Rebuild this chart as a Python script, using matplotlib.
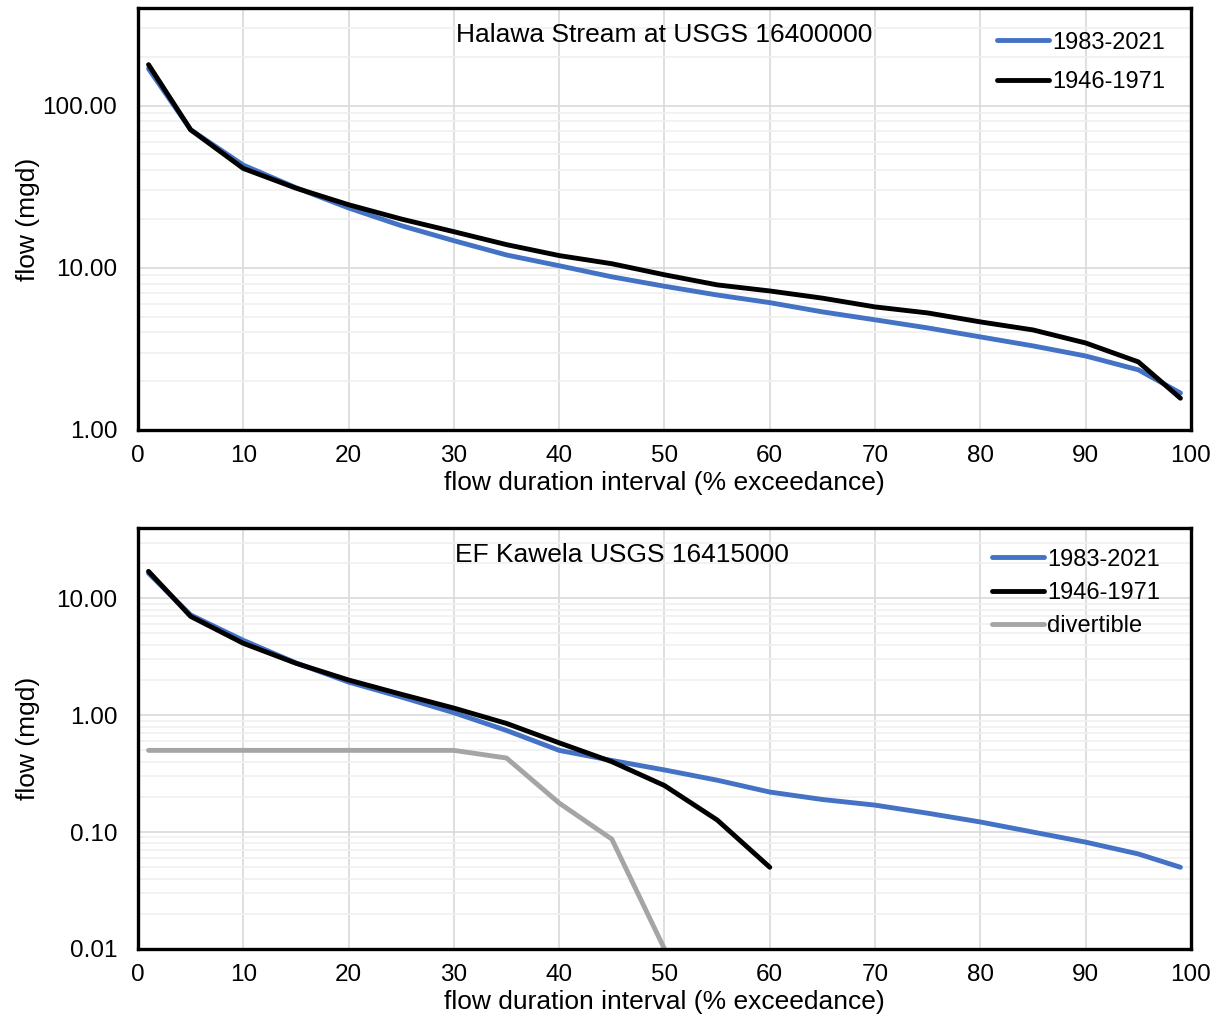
import matplotlib
matplotlib.use("Agg")
import matplotlib.pyplot as plt
import numpy as np
from matplotlib.ticker import FixedLocator, FormatStrFormatter, NullFormatter

plt.rcParams['font.family'] = ['Liberation Sans', 'DejaVu Sans']

# exceedance intervals (%)
pct = [1, 5, 10, 15, 20, 25, 30, 35, 40, 45, 50, 55, 60, 65, 70, 75, 80, 85, 90, 95, 99]

# Halawa Stream at USGS 16400000
halawa_recent = [169, 71, 43, 31.2, 23.4, 18.2, 14.7, 12.0, 10.3, 8.8, 7.7,
                 6.8, 6.1, 5.35, 4.78, 4.26, 3.75, 3.30, 2.86, 2.35, 1.69]
halawa_old = [179, 71, 41, 31, 24.5, 20, 16.7, 13.9, 11.9, 10.6, 9.06,
              7.85, 7.2, 6.5, 5.74, 5.27, 4.64, 4.14, 3.44, 2.63, 1.57]

# EF Kawela USGS 16415000
kawela_recent = [16.4, 7.2, 4.37, 2.8, 1.92, 1.43, 1.05, 0.74, 0.50, 0.41, 0.34,
                 0.278, 0.22, 0.19, 0.17, 0.145, 0.122, 0.10, 0.082, 0.065, 0.050]
pct_old_k = [1, 5, 10, 15, 20, 25, 30, 35, 40, 45, 50, 55, 60]
kawela_old = [17, 7.0, 4.12, 2.78, 2.0, 1.51, 1.15, 0.85, 0.58, 0.40, 0.25, 0.127, 0.050]
pct_div = [1, 5, 10, 15, 20, 25, 30, 35, 40, 45, 50]
divertible = [0.5, 0.5, 0.5, 0.5, 0.5, 0.5, 0.5, 0.43, 0.177, 0.087, 0.01]

blue = '#4472c4'
grey = '#a5a5a5'
fs = 19       # titles and axis labels
fs_tick = 17.5
fs_leg = 17
lw = 3.5

fig = plt.figure(figsize=(12.17, 10.17), dpi=100)
ax1 = fig.add_axes([0.1134, 0.5772, 0.8652, 0.4149])
ax2 = fig.add_axes([0.1134, 0.0669, 0.8652, 0.4140])


def style(ax, ylo, yhi, decades):
    ax.set_yscale('log')
    ax.set_xlim(0, 100)
    ax.set_ylim(ylo, yhi)
    ax.xaxis.set_major_locator(FixedLocator(np.arange(0, 101, 10)))
    ax.yaxis.set_major_locator(FixedLocator(decades))
    ax.yaxis.set_major_formatter(FormatStrFormatter('%.2f'))
    minors = [d * k for d in decades for k in range(2, 10)]
    ax.yaxis.set_minor_locator(FixedLocator(minors))
    ax.yaxis.set_minor_formatter(NullFormatter())
    ax.grid(True, which='major', color='#d9d9d9', lw=1.2)
    ax.grid(True, which='minor', axis='y', color='#f0f0f0', lw=1.2)
    ax.set_axisbelow(True)
    ax.tick_params(which='both', length=0, labelsize=fs_tick)
    ax.tick_params(axis='x', pad=11)
    ax.tick_params(axis='y', pad=15)
    for sp in ax.spines.values():
        sp.set_linewidth(2.4)
        sp.set_color('black')
    ax.set_xlabel('flow duration interval (% exceedance)', fontsize=fs)
    ax.set_ylabel('flow (mgd)', fontsize=fs)
    ax.xaxis.set_label_coords(0.5, -0.098)
    ax.yaxis.set_label_coords(-0.093, 0.5)


style(ax1, 1, 400, [1, 10, 100])
ax1.plot(pct, halawa_recent, color=blue, lw=lw, label='1983-2021', solid_capstyle='round')
ax1.plot(pct, halawa_old, color='black', lw=lw, label='1946-1971', solid_capstyle='round')
ax1.text(0.5, 1 - 27 / 422, 'Halawa Stream at USGS 16400000', transform=ax1.transAxes,
         ha='center', va='center', fontsize=fs)
ax1.legend(loc='upper left', bbox_to_anchor=(0.816, 0.944), frameon=False, fontsize=fs_leg,
           handlelength=2.2, handletextpad=0.15, labelspacing=0.75, borderpad=0,
           borderaxespad=0)

style(ax2, 0.01, 40, [0.01, 0.1, 1, 10])
ax2.plot(pct, kawela_recent, color=blue, lw=lw, label='1983-2021', solid_capstyle='round')
ax2.plot(pct_old_k, kawela_old, color='black', lw=lw, label='1946-1971', solid_capstyle='round')
ax2.plot(pct_div, divertible, color=grey, lw=lw, label='divertible', solid_capstyle='round')
ax2.text(0.301, 1 - 27 / 421, 'EF Kawela USGS 16415000', transform=ax2.transAxes,
         ha='left', va='center', fontsize=fs)
ax2.legend(loc='upper left', bbox_to_anchor=(0.811, 0.951), frameon=False, fontsize=fs_leg,
           handlelength=2.2, handletextpad=0.15, labelspacing=0.48, borderpad=0,
           borderaxespad=0)

plt.savefig('out.png', dpi=100)
